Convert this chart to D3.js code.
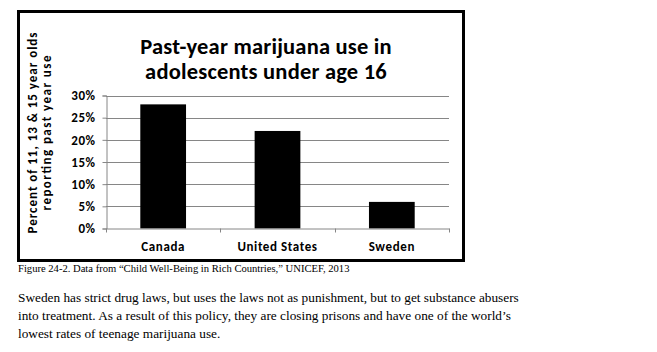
<!DOCTYPE html>
<html>
<head>
<meta charset="utf-8">
<script src="https://cdn.jsdelivr.net/npm/d3@7"></script>
<style>
  html, body { margin: 0; padding: 0; background: #fff; }
  svg { display: block; }
</style>
</head>
<body>
<svg id="chart" width="657" height="352"></svg>
<script>
// data
const countries = ["Canada", "United States", "Sweden"];
const usePct = [28, 22, 6];
const yTicks = [0, 5, 10, 15, 20, 25, 30];
const titleLines = ["Past-year marijuana use in", "adolescents under age 16"];
const yTitleLines = ["Percent of 11, 13 & 15 year olds", "reporting past year use"];
const caption = "Figure 24-2. Data from \u201CChild Well-Being in Rich Countries,\u201D UNICEF, 2013";
const bodyLines = [
    "Sweden has strict drug laws, but uses the laws not as punishment, but to get substance abusers",
    "into treatment. As a result of this policy, they are closing prisons and have one of the world\u2019s",
    "lowest rates of teenage marijuana use."
];

const SANS = "Carlito, 'Open Sans', sans-serif";
const SERIF = "'Liberation Serif', 'Times New Roman', serif";

const svg = d3.select("#chart");
svg.append("rect").attr("width", 657).attr("height", 352).attr("fill", "#fff");

// frame
svg.append("rect")
    .attr("x", 18.5).attr("y", 11.5).attr("width", 445).attr("height", 249)
    .attr("fill", "none").attr("stroke", "#000").attr("stroke-width", 3);

const plot = { left: 106, right: 449, top: 95.5, bottom: 228.5 };

const x = d3.scaleBand().domain(countries).range([plot.left, plot.right]).paddingInner(0.6).paddingOuter(0.3);
const xb = d3.scaleBand().domain(countries).range([plot.left, plot.right]);
const y = d3.scaleLinear().domain([0, 30]).range([plot.bottom, plot.top]);

// gridlines
svg.append("g").selectAll("line").data(yTicks.filter(d => d > 0)).join("line")
    .attr("x1", plot.left).attr("x2", plot.right)
    .attr("y1", d => Math.round(y(d)) + 0.5).attr("y2", d => Math.round(y(d)) + 0.5)
    .attr("stroke", "#868686").attr("stroke-width", 1);

// bars
svg.append("g").selectAll("rect").data(countries).join("rect")
    .attr("x", d => x(d)).attr("width", x.bandwidth())
    .attr("y", (d, i) => y(usePct[i])).attr("height", (d, i) => plot.bottom - y(usePct[i]))
    .attr("fill", "#000");

// y axis
const yAxis = svg.append("g").attr("transform", `translate(${plot.left + 0.5},0)`)
    .call(d3.axisLeft(y).tickValues(yTicks).tickSize(4).tickPadding(7).tickFormat(d => d + "%"));
yAxis.select(".domain").attr("stroke", "#868686");
yAxis.selectAll(".tick line").attr("stroke", "#868686");
yAxis.selectAll(".tick text").attr("font-family", SANS).attr("font-weight", "bold")
    .attr("font-size", 13).attr("letter-spacing", 0.5).attr("fill", "#000");

// x axis
const xAxis = svg.append("g").attr("transform", `translate(0,${plot.bottom})`)
    .call(d3.axisBottom(xb).tickSize(0).tickPadding(13));
xAxis.select(".domain").attr("stroke", "#868686");
xAxis.selectAll(".tick text").attr("font-family", SANS).attr("font-weight", "bold")
    .attr("font-size", 13).attr("letter-spacing", 0.6).attr("fill", "#000");
svg.append("g").selectAll("line").data([...countries.map(c => xb(c)), plot.right]).join("line")
    .attr("x1", d => Math.round(d) + 0.5).attr("x2", d => Math.round(d) + 0.5)
    .attr("y1", plot.bottom).attr("y2", plot.bottom + 4)
    .attr("stroke", "#868686");

// title
svg.append("g").selectAll("text").data(titleLines).join("text")
    .attr("x", 266).attr("y", (d, i) => 54 + i * 25)
    .attr("text-anchor", "middle")
    .attr("font-family", SANS).attr("font-weight", "bold").attr("font-size", 22.5)
    .attr("letter-spacing", 0.2)
    .attr("fill", "#000").text(d => d);

// y axis title
const yTitleLen = [201, 155];
svg.append("g").selectAll("text").data(yTitleLines).join("text")
    .attr("transform", (d, i) => `translate(${37 + i * 14},133) rotate(-90)`)
    .attr("text-anchor", "middle")
    .attr("font-family", SANS).attr("font-weight", "bold").attr("font-size", 13)
    .attr("textLength", (d, i) => yTitleLen[i]).attr("lengthAdjust", "spacing")
    .attr("fill", "#000").text(d => d);

// caption and paragraph
svg.append("text").attr("x", 18).attr("y", 272)
    .attr("font-family", SERIF).attr("font-size", 10.6).attr("fill", "#000").text(caption);

svg.append("g").selectAll("text").data(bodyLines).join("text")
    .attr("x", 18).attr("y", (d, i) => 302 + i * 18)
    .attr("font-family", SERIF).attr("font-size", 13.3).attr("fill", "#000").text(d => d);
</script>
</body>
</html>
